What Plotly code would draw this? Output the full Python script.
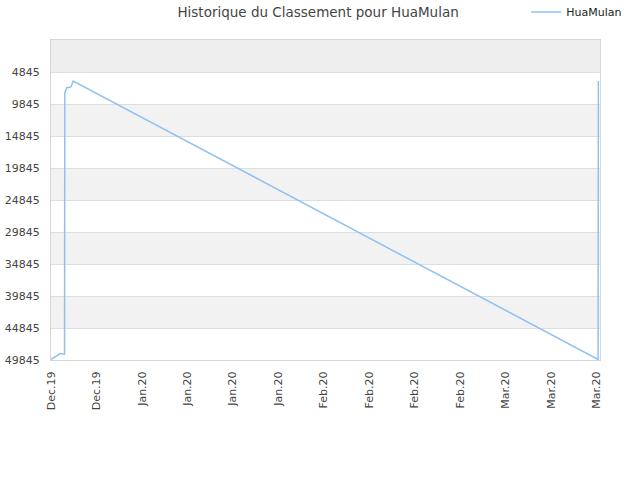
import plotly.graph_objects as go

# Data
dates = [
    "2019-12-22 00:00", "2019-12-23 10:00", "2019-12-24 02:00", "2019-12-24 03:00",
    "2019-12-24 10:00", "2019-12-25 02:00", "2019-12-25 10:00",
    "2020-03-15 05:00", "2020-03-15 06:00",
]
ranks = [49760, 48830, 48940, 8070, 7290, 7180, 6250, 49760, 6250]

y_ticks = [4845, 9845, 14845, 19845, 24845, 29845, 34845, 39845, 44845, 49845]
y_top = -155
x_start = "2019-12-22 00:00"
x_end = "2020-03-15 12:00"

fig = go.Figure()
fig.add_trace(go.Scatter(
    x=dates, y=ranks, mode="lines", name="HuaMulan",
    line=dict(color="#8ec1f2", width=1.5),
    showlegend=True,
))

# Alternating bands
shapes = []
bounds = [y_top] + y_ticks
for i in range(len(bounds) - 1):
    lo, hi = bounds[i], bounds[i + 1]
    if i == 0:
        col = "#eeeeee"
    elif i % 2 == 0:
        col = "#f2f2f2"
    else:
        continue
    shapes.append(dict(type="rect", xref="paper", yref="y", x0=0, x1=1, y0=lo, y1=hi,
                       fillcolor=col, line=dict(width=0), layer="below"))

fig.update_layout(
    width=640, height=480,
    margin=dict(l=51, r=40, t=40, b=120, autoexpand=False),
    paper_bgcolor="white", plot_bgcolor="white",
    font=dict(family="DejaVu Sans", size=11, color="#444"),
    title=dict(text="Historique du Classement pour HuaMulan", x=0.497, xanchor="center",
               yref="container", y=1 - 12 / 480, yanchor="middle", pad=dict(t=0, b=0),
               font=dict(size=13.5, color="#444")),
    legend=dict(orientation="h", xref="container", x=0.98, xanchor="right",
                yref="container", y=1 - 12 / 480, yanchor="middle",
                font=dict(size=11, color="#222"), bgcolor="rgba(0,0,0,0)"),
    shapes=shapes,
    xaxis=dict(
        type="date", range=[x_start, x_end], automargin=False,
        tick0=x_start, dtick=7 * 86400000, tickformat="%b.%y",
        tickangle=-90, showgrid=False, ticklabelstandoff=6,
        showline=True, linecolor="#d6d6d6", mirror=True, zeroline=False,
        tickfont=dict(size=11, color="#444"),
    ),
    yaxis=dict(
        range=[49845, y_top], tickvals=y_ticks, ticktext=[str(v) for v in y_ticks],
        automargin=False,
        showgrid=True, gridcolor="#dedede", gridwidth=1, zeroline=False,
        showline=True, linecolor="#d6d6d6", mirror=True, ticklabelstandoff=8,
        tickfont=dict(size=11, color="#444"),
    ),
)

fig.write_html("out.html", config={"displayModeBar": False},
               post_script="document.body.style.margin='0';")
